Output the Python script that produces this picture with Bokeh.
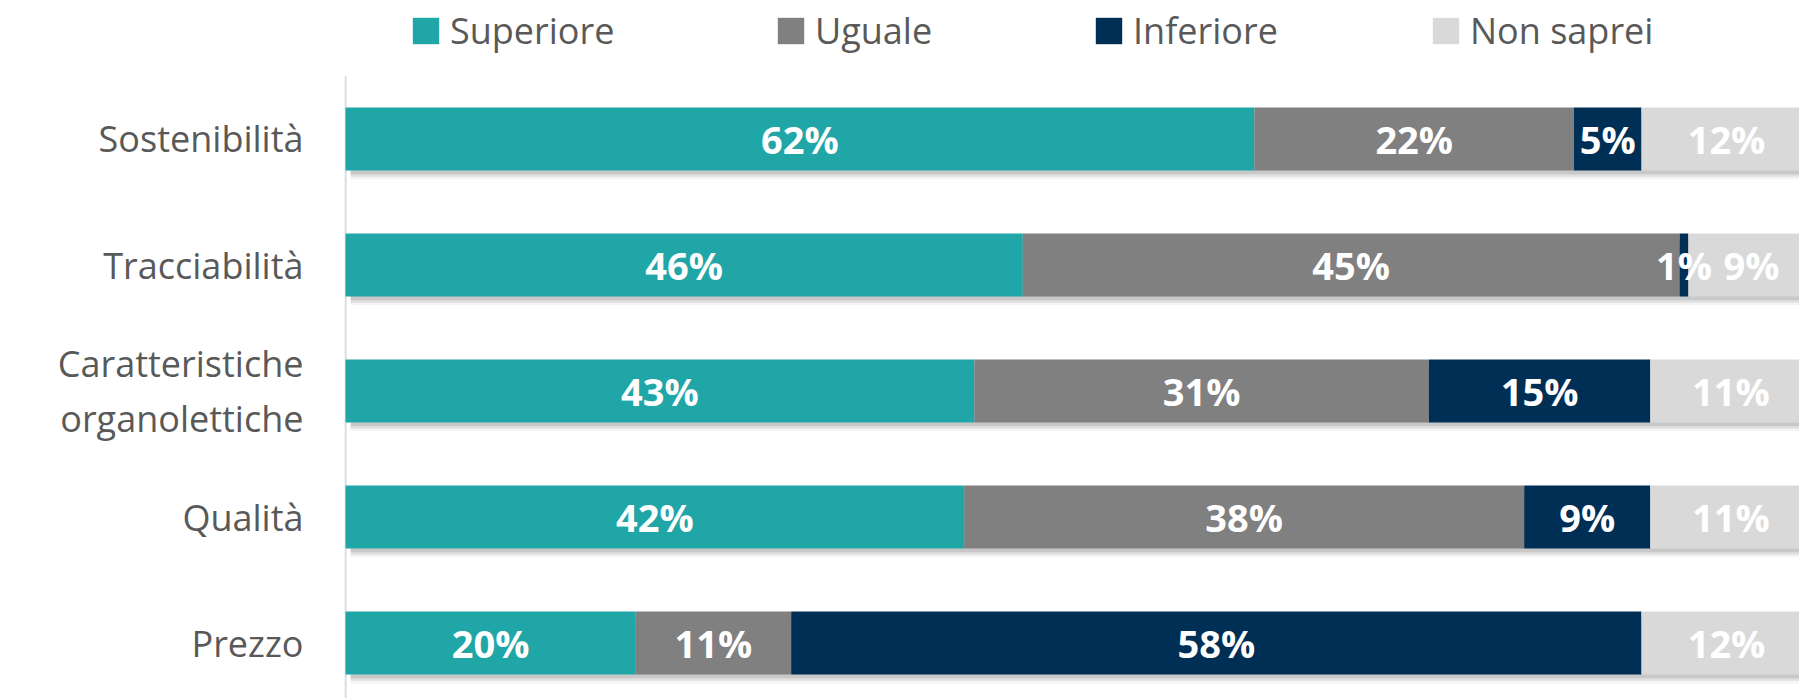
from bokeh.plotting import figure
from bokeh.models import ColumnDataSource, Range1d, FixedTicker, Legend, LegendItem
from bokeh.core.properties import value
from bokeh.embed import file_html
from bokeh.resources import INLINE

categories = ["Sostenibilità", "Tracciabilità", "Caratteristiche\norganolettiche", "Qualità", "Prezzo"]
series = ["Superiore", "Uguale", "Inferiore", "Non saprei"]
superiore = [62.0, 46.2, 42.9, 42.2, 19.8]
uguale = [21.8, 44.8, 31.0, 38.2, 10.6]
inferiore = [4.6, 0.6, 15.1, 8.6, 58.0]
non_saprei = [11.6, 8.6, 11.0, 11.0, 11.6]
colors = ["#21A6A8", "#808080", "#002F56", "#D9D9D9"]

FONT = "Open Sans"
n = len(categories)
ypos = [n - 1 - i for i in range(n)]
Y_TOP, Y_BOTTOM = 5.099, -0.44
X_START, X_END = -0.068, 99.18

data = dict(y=ypos, cat=categories)
for name, vals in zip(series, [superiore, uguale, inferiore, non_saprei]):
    data[name] = vals
source = ColumnDataSource(data)

p = figure(width=1799, height=698, output_backend="svg", toolbar_location=None,
           x_range=Range1d(X_START, X_END), y_range=Range1d(Y_BOTTOM, Y_TOP),
           x_axis_location=None, y_axis_location="left",
           min_border_left=344, min_border_right=0, min_border_top=0, min_border_bottom=0)
p.outline_line_color = None
p.grid.visible = False
p.background_fill_color = "white"
p.border_fill_color = "white"

# vertical baseline (axis line) starting just above the first bar row
p.segment(x0=[0], y0=[ypos[0] + 0.5], x1=[0], y1=[Y_BOTTOM], line_color="#D9D9D9", line_width=2)

# soft shadow under bars
totals = [a + b + c + d for a, b, c, d in zip(superiore, uguale, inferiore, non_saprei)]
for dy, alpha in [(0.030, 0.11), (0.050, 0.08), (0.070, 0.045)]:
    p.hbar(y=[yy - dy for yy in ypos], left=0.35, right=totals, height=0.5,
           fill_color="black", fill_alpha=alpha, line_color=None)

renderers = p.hbar_stack(series, y="y", height=0.5, color=colors, line_color=None, source=source)

# value labels
lx, ly, lt = [], [], []
for i in range(n):
    start = 0.0
    for vals in [superiore, uguale, inferiore, non_saprei]:
        v = vals[i]
        lx.append(start + v / 2)
        ly.append(ypos[i])
        lt.append(f"{round(v)}%")
        start += v
p.text(x=lx, y=ly, text=lt, text_align="center", text_baseline="middle",
       text_font=value(FONT), text_font_style="bold", text_font_size="38px",
       text_color="white")

# y axis (labels only)
ax = p.yaxis[0]
ax.ticker = FixedTicker(ticks=ypos)
ax.major_label_overrides = {y: c for y, c in zip(ypos, categories)}
ax.major_tick_line_color = None
ax.minor_tick_line_color = None
ax.major_tick_in = 0
ax.major_tick_out = 0
ax.major_label_standoff = 41
ax.axis_line_color = None
ax.major_label_text_font = FONT
ax.major_label_text_font_size = "36px"
ax.major_label_text_color = "#595959"
ax.major_label_text_line_height = 1.12

# legends, one per item
legend_x = [65, 430, 748, 1085]
for r, name, lxp in zip(renderers, series, legend_x):
    lg = Legend(items=[LegendItem(label=name, renderers=[r])], location=(lxp, 643),
                orientation="horizontal", padding=0, margin=0, spacing=0,
                border_line_color=None, background_fill_alpha=0,
                glyph_width=33, glyph_height=33, label_standoff=8,
                label_text_font=FONT, label_text_font_size="36px",
                label_text_color="#595959")
    p.add_layout(lg, "center")

open("out.html", "w").write(file_html(p, INLINE))
